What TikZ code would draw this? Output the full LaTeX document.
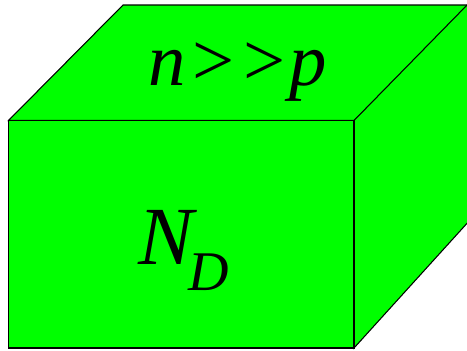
\documentclass[tikz,border=0pt]{standalone}
\usepackage{fontspec}
\setmainfont{Liberation Serif}
\usepackage{xcolor}
\definecolor{boxgreen}{RGB}{0,255,0}

\tikzset{
  face/.style={draw=black, fill=boxgreen, line width=0.8pt, line join=miter},
  biglabel/.style={inner sep=0pt, font=\fontsize{56}{62}\selectfont}
}

\begin{document}
\begin{tikzpicture}[x=0.75pt, y=-0.75pt]
  \clip (0,0) rectangle (467,350);
  % top, right and front faces
  \draw[face] (8.5,120.5) -- (123,5) -- (470,5) -- (354,120.5) -- cycle;
  \draw[face] (354,120.5) -- (470,2) -- (470,220) -- (354,348) -- cycle;
  \draw[face] (8.5,120.5) rectangle (354,348);
  % labels
  \node[biglabel, anchor=base west] (ratio) at (148,85)
    {\itshape n\kern5pt\upshape\symbol{62}\kern7pt\symbol{62}\kern3pt\itshape p};
  \node[inner sep=0pt, anchor=base west, font=\fontsize{62}{70}\selectfont] (count) at (138,264)
    {\itshape N\kern-4pt{\fontsize{42}{48}\selectfont\raisebox{-20pt}{D}}};
\end{tikzpicture}
\end{document}
